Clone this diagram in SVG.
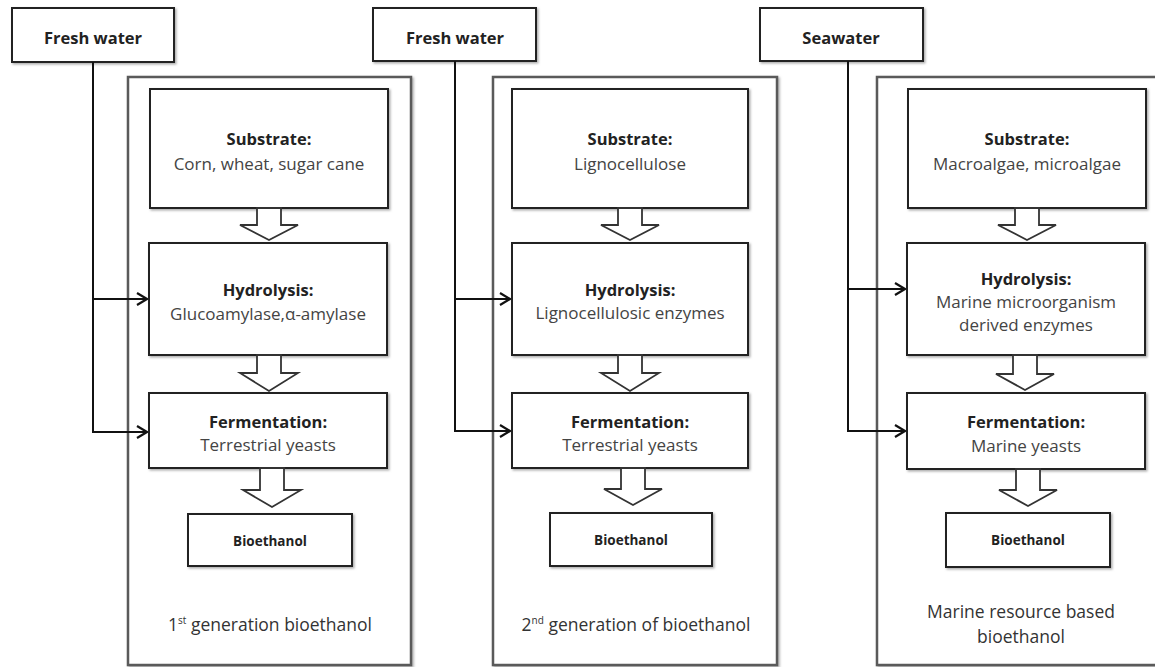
<svg xmlns="http://www.w3.org/2000/svg" width="1155" height="667" viewBox="0 0 1155 667">
<style>
.outer{fill:#fff;stroke:#5a5a5a;stroke-width:2.5;filter:url(#sh)}
.box{fill:#fff;stroke:#222;stroke-width:2;filter:url(#sh)}
.harrow{fill:#fff;stroke:#333;stroke-width:1.8;stroke-linejoin:miter}
.b{font-family:"Open Sans","Liberation Sans",sans-serif;font-weight:bold;font-size:16.5px;fill:#222;text-anchor:middle}
.r{font-family:"Open Sans","Liberation Sans",sans-serif;font-size:17px;fill:#444;text-anchor:middle}
.s{font-family:"Open Sans","Liberation Sans",sans-serif;font-weight:bold;font-size:13.5px;fill:#222;text-anchor:middle}
.lbl{font-family:"Open Sans","Liberation Sans",sans-serif;font-size:17.5px;fill:#333;text-anchor:middle}
.conn{fill:none;stroke:#111;stroke-width:2}
</style>
<defs>
<filter id="sh" x="-5%" y="-5%" width="115%" height="115%">
<feDropShadow dx="1.5" dy="1.5" stdDeviation="1" flood-color="#888" flood-opacity="0.7"/>
</filter>
<marker id="chev" viewBox="0 0 12 14" refX="11" refY="7" markerWidth="12" markerHeight="14" markerUnits="userSpaceOnUse" orient="auto">
<path d="M1,1 L11,7 L1,13" fill="none" stroke="#111" stroke-width="2.2"/>
</marker>
</defs>
<rect width="1155" height="667" fill="#fff"/>

<!-- Column 1 -->
<g id="col1-frame">
<rect class="outer" x="128" y="77" width="283" height="588"/>
<text class="lbl" x="270" y="631">1<tspan font-size="10" dy="-7">st</tspan><tspan dy="7"> generation bioethanol</tspan></text>
</g>
<g id="col1-source">
<rect class="box" x="12" y="8" width="162" height="54"/>
<text class="b" x="93" y="44">Fresh water</text>
</g>
<g id="col1-substrate">
<rect class="box" x="150" y="89" width="238" height="119"/>
<text class="b" x="269" y="145">Substrate:</text>
<text class="r" x="269" y="170">Corn, wheat, sugar cane</text>
</g>
<g id="col1-hydrolysis">
<rect class="box" x="149" y="243" width="238" height="112"/>
<text class="b" x="268" y="296">Hydrolysis:</text>
<text class="r" x="268" y="320">Glucoamylase,α-amylase</text>
</g>
<g id="col1-fermentation">
<rect class="box" x="149" y="393" width="238" height="75"/>
<text class="b" x="268" y="428">Fermentation:</text>
<text class="r" x="268" y="451">Terrestrial yeasts</text>
</g>
<g id="col1-bioethanol">
<rect class="box" x="188" y="514" width="164" height="52"/>
<text class="s" x="270" y="546">Bioethanol</text>
</g>

<!-- Column 2 -->
<g id="col2-frame">
<rect class="outer" x="493" y="77" width="284" height="588"/>
<text class="lbl" x="636" y="631">2<tspan font-size="10" dy="-7">nd</tspan><tspan dy="7"> generation of bioethanol</tspan></text>
</g>
<g id="col2-source">
<rect class="box" x="373" y="8" width="163" height="53"/>
<text class="b" x="455" y="44">Fresh water</text>
</g>
<g id="col2-substrate">
<rect class="box" x="512" y="89" width="236" height="119"/>
<text class="b" x="630" y="145">Substrate:</text>
<text class="r" x="630" y="170">Lignocellulose</text>
</g>
<g id="col2-hydrolysis">
<rect class="box" x="512" y="243" width="236" height="112"/>
<text class="b" x="630" y="296">Hydrolysis:</text>
<text class="r" x="630" y="319">Lignocellulosic enzymes</text>
</g>
<g id="col2-fermentation">
<rect class="box" x="512" y="393" width="236" height="75"/>
<text class="b" x="630" y="428">Fermentation:</text>
<text class="r" x="630" y="451">Terrestrial yeasts</text>
</g>
<g id="col2-bioethanol">
<rect class="box" x="550" y="513" width="162" height="53"/>
<text class="s" x="631" y="545">Bioethanol</text>
</g>

<!-- Column 3 -->
<g id="col3-frame">
<rect class="outer" x="877" y="77" width="290" height="588"/>
<text class="lbl" x="1021" y="618">Marine resource based</text>
<text class="lbl" x="1021" y="643">bioethanol</text>
</g>
<g id="col3-source">
<rect class="box" x="760" y="8" width="163" height="53"/>
<text class="b" x="841" y="44">Seawater</text>
</g>
<g id="col3-substrate">
<rect class="box" x="908" y="89" width="238" height="119"/>
<text class="b" x="1027" y="145">Substrate:</text>
<text class="r" x="1027" y="170">Macroalgae, microalgae</text>
</g>
<g id="col3-hydrolysis">
<rect class="box" x="907" y="243" width="238" height="112"/>
<text class="b" x="1026" y="285">Hydrolysis:</text>
<text class="r" x="1026" y="308">Marine microorganism</text>
<text class="r" x="1026" y="331">derived enzymes</text>
</g>
<g id="col3-fermentation">
<rect class="box" x="907" y="393" width="238" height="76"/>
<text class="b" x="1026" y="428">Fermentation:</text>
<text class="r" x="1026" y="452">Marine yeasts</text>
</g>
<g id="col3-bioethanol">
<rect class="box" x="946" y="513" width="164" height="54"/>
<text class="s" x="1028" y="545">Bioethanol</text>
</g>

<!-- Connectors -->
<g id="connectors">
<polygon class="harrow" points="257,208 281,208 281,225 298,225 269,240 240,225 257,225"/>
<polygon class="harrow" points="257,355 281,355 281,373 298,373 269,391 240,373 257,373"/>
<polygon class="harrow" points="260,468 284,468 284,490 301,490 272,507 243,490 260,490"/>
<polygon class="harrow" points="618,208 642,208 642,225 659,225 630,240 601,225 618,225"/>
<polygon class="harrow" points="618,355 642,355 642,373 659,373 630,391 601,373 618,373"/>
<polygon class="harrow" points="621,468 645,468 645,489 662,489 633,505 604,489 621,489"/>
<polygon class="harrow" points="1015,208 1039,208 1039,225 1056,225 1027,240 998,225 1015,225"/>
<polygon class="harrow" points="1013,355 1037,355 1037,374 1054,374 1025,390 996,374 1013,374"/>
<polygon class="harrow" points="1016,469 1040,469 1040,490 1057,490 1028,506 999,490 1016,490"/>
<path class="conn" d="M93,62 V432 H147" marker-end="url(#chev)"/>
<path class="conn" d="M93,299 H147" marker-end="url(#chev)"/>
<path class="conn" d="M455,61 V431 H510" marker-end="url(#chev)"/>
<path class="conn" d="M455,299 H510" marker-end="url(#chev)"/>
<path class="conn" d="M848,61 V431 H905" marker-end="url(#chev)"/>
<path class="conn" d="M848,289 H905" marker-end="url(#chev)"/>
</g>
</svg>
